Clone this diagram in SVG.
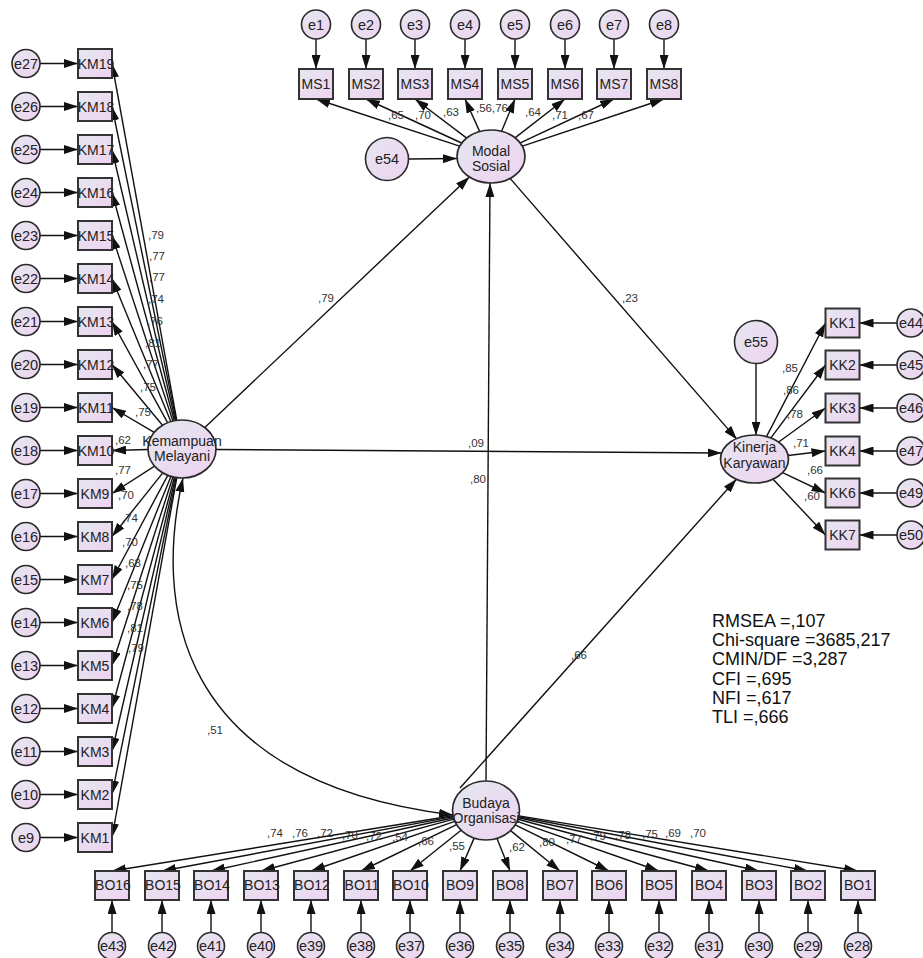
<svg xmlns="http://www.w3.org/2000/svg" width="923" height="958" viewBox="0 0 923 958">
<defs>
<linearGradient id="g" x1="0" y1="0" x2="1" y2="1">
<stop offset="0" stop-color="#e5e7f0"/>
<stop offset="1" stop-color="#eed3f0"/>
</linearGradient>
<marker id="ah" viewBox="0 0 14 9" refX="14" refY="4.5" markerWidth="14" markerHeight="9" markerUnits="userSpaceOnUse" orient="auto-start-reverse">
<path d="M0,0 L14,4.5 L0,9 z" fill="#111"/>
</marker>
<style>
.box{fill:url(#g);stroke:#333;stroke-width:2}
.err{fill:url(#g);stroke:#2a2a2a;stroke-width:1.6}
.lat{fill:url(#g);stroke:#2a2a2a;stroke-width:1.7}
.t{font-family:"Liberation Sans",Arial,sans-serif;font-size:14px;fill:#222;text-anchor:middle}
.te{font-family:"Liberation Sans",Arial,sans-serif;font-size:14.5px;fill:#222;text-anchor:middle}
.tl{font-family:"Liberation Sans",Arial,sans-serif;font-size:14px;fill:#222;text-anchor:middle}
.lb{font-family:"Liberation Sans",Arial,sans-serif;font-size:11.5px;fill:#333}
.st{font-family:"Liberation Sans",Arial,sans-serif;font-size:18px;fill:#111}
#conn line,#conn path{stroke:#111;stroke-width:1.4;fill:none;marker-end:url(#ah)}
#conn path.cov{marker-start:url(#ah)}
</style>
</defs>
<rect width="923" height="958" fill="#fff"/>
<g id="conn">
<line x1="40" y1="63.5" x2="78" y2="63.5"/>
<line x1="40" y1="106.5" x2="78" y2="106.5"/>
<line x1="40" y1="149.5" x2="78" y2="149.5"/>
<line x1="40" y1="192.5" x2="78" y2="192.5"/>
<line x1="40" y1="235.5" x2="78" y2="235.5"/>
<line x1="40" y1="278.5" x2="78" y2="278.5"/>
<line x1="40" y1="321.5" x2="78" y2="321.5"/>
<line x1="40" y1="364.5" x2="78" y2="364.5"/>
<line x1="40" y1="407.5" x2="78" y2="407.5"/>
<line x1="40" y1="450.5" x2="78" y2="450.5"/>
<line x1="40" y1="493.5" x2="78" y2="493.5"/>
<line x1="40" y1="536.5" x2="78" y2="536.5"/>
<line x1="40" y1="579.5" x2="78" y2="579.5"/>
<line x1="40" y1="622.5" x2="78" y2="622.5"/>
<line x1="40" y1="665.5" x2="78" y2="665.5"/>
<line x1="40" y1="708.5" x2="78" y2="708.5"/>
<line x1="40" y1="751.5" x2="78" y2="751.5"/>
<line x1="40" y1="794.5" x2="78" y2="794.5"/>
<line x1="40" y1="837.5" x2="78" y2="837.5"/>
<line x1="176.8" y1="420.4" x2="112" y2="63.5"/>
<line x1="176.2" y1="420.4" x2="112" y2="106.5"/>
<line x1="175.4" y1="420.6" x2="112" y2="149.5"/>
<line x1="174.3" y1="420.8" x2="112" y2="192.5"/>
<line x1="172.9" y1="421.1" x2="112" y2="235.5"/>
<line x1="170.8" y1="421.6" x2="112" y2="278.5"/>
<line x1="167.6" y1="422.7" x2="112" y2="321.5"/>
<line x1="162.5" y1="425.3" x2="112" y2="364.5"/>
<line x1="154.2" y1="432.3" x2="112" y2="407.5"/>
<line x1="148" y1="449.5" x2="112" y2="450.5"/>
<line x1="154.6" y1="466.2" x2="112" y2="493.5"/>
<line x1="162.8" y1="472.9" x2="112" y2="536.5"/>
<line x1="167.8" y1="475.4" x2="112" y2="579.5"/>
<line x1="170.9" y1="476.4" x2="112" y2="622.5"/>
<line x1="172.9" y1="477.0" x2="112" y2="665.5"/>
<line x1="174.4" y1="477.3" x2="112" y2="708.5"/>
<line x1="175.4" y1="477.4" x2="112" y2="751.5"/>
<line x1="176.2" y1="477.6" x2="112" y2="794.5"/>
<line x1="176.8" y1="477.7" x2="112" y2="837.5"/>
<line x1="316" y1="39" x2="316" y2="69"/>
<line x1="366" y1="39" x2="366" y2="69"/>
<line x1="415" y1="39" x2="415" y2="69"/>
<line x1="465" y1="39" x2="465" y2="69"/>
<line x1="515" y1="39" x2="515" y2="69"/>
<line x1="565" y1="39" x2="565" y2="69"/>
<line x1="614" y1="39" x2="614" y2="69"/>
<line x1="664" y1="39" x2="664" y2="69"/>
<line x1="459.6" y1="146.2" x2="316" y2="99"/>
<line x1="461.6" y1="143.0" x2="366" y2="99"/>
<line x1="466.4" y1="137.9" x2="415" y2="99"/>
<line x1="479.5" y1="131.1" x2="465" y2="99"/>
<line x1="501.7" y1="130.9" x2="515" y2="99"/>
<line x1="515.3" y1="137.6" x2="565" y2="99"/>
<line x1="520.3" y1="142.8" x2="614" y2="99"/>
<line x1="522.4" y1="146.1" x2="664" y2="99"/>
<line x1="408.5" y1="159" x2="457" y2="158.5"/>
<line x1="756" y1="363.5" x2="756" y2="435.5"/>
<line x1="766.1" y1="437.4" x2="825.5" y2="323"/>
<line x1="770.3" y1="438.7" x2="825.5" y2="365"/>
<line x1="778.0" y1="442.5" x2="825.5" y2="408"/>
<line x1="788.0" y1="455.5" x2="825.5" y2="451"/>
<line x1="782.6" y1="472.7" x2="825.5" y2="493"/>
<line x1="773.1" y1="479.2" x2="825.5" y2="535"/>
<line x1="897" y1="323" x2="859.5" y2="323"/>
<line x1="897" y1="365" x2="859.5" y2="365"/>
<line x1="897" y1="408" x2="859.5" y2="408"/>
<line x1="897" y1="451" x2="859.5" y2="451"/>
<line x1="897" y1="493" x2="859.5" y2="493"/>
<line x1="897" y1="535" x2="859.5" y2="535"/>
<line x1="453.0" y1="815.8" x2="112" y2="871"/>
<line x1="453.2" y1="816.6" x2="162" y2="871"/>
<line x1="453.5" y1="817.7" x2="211" y2="871"/>
<line x1="454.0" y1="819.1" x2="261" y2="871"/>
<line x1="454.8" y1="821.3" x2="311" y2="871"/>
<line x1="456.6" y1="824.7" x2="361" y2="871"/>
<line x1="461.1" y1="830.3" x2="410" y2="871"/>
<line x1="474.1" y1="838.1" x2="460" y2="871"/>
<line x1="497.0" y1="838.4" x2="510" y2="871"/>
<line x1="510.6" y1="830.6" x2="560" y2="871"/>
<line x1="515.2" y1="824.9" x2="609" y2="871"/>
<line x1="517.1" y1="821.4" x2="659" y2="871"/>
<line x1="518.0" y1="819.2" x2="709" y2="871"/>
<line x1="518.5" y1="817.7" x2="759" y2="871"/>
<line x1="518.8" y1="816.7" x2="808" y2="871"/>
<line x1="519.0" y1="815.9" x2="858" y2="871"/>
<line x1="112" y1="932.5" x2="112" y2="900"/>
<line x1="162" y1="932.5" x2="162" y2="900"/>
<line x1="211" y1="932.5" x2="211" y2="900"/>
<line x1="261" y1="932.5" x2="261" y2="900"/>
<line x1="311" y1="932.5" x2="311" y2="900"/>
<line x1="361" y1="932.5" x2="361" y2="900"/>
<line x1="410" y1="932.5" x2="410" y2="900"/>
<line x1="460" y1="932.5" x2="460" y2="900"/>
<line x1="510" y1="932.5" x2="510" y2="900"/>
<line x1="560" y1="932.5" x2="560" y2="900"/>
<line x1="609" y1="932.5" x2="609" y2="900"/>
<line x1="659" y1="932.5" x2="659" y2="900"/>
<line x1="709" y1="932.5" x2="709" y2="900"/>
<line x1="759" y1="932.5" x2="759" y2="900"/>
<line x1="808" y1="932.5" x2="808" y2="900"/>
<line x1="858" y1="932.5" x2="858" y2="900"/>
<line x1="204.8" y1="427.4" x2="469.4" y2="177.0"/>
<line x1="510.1" y1="178.4" x2="737.0" y2="439.4"/>
<line x1="216" y1="449.5" x2="721.6" y2="453"/>
<line x1="486" y1="781" x2="490" y2="183"/>
<line x1="460" y1="788" x2="736.6" y2="479"/>
<path class="cov" d="M183,478 C155,600 170,780 453,815"/>
</g>
<g id="labels">
<text class="lb" x="148" y="239">,79</text>
<text class="lb" x="149" y="260">,77</text>
<text class="lb" x="149" y="281">,77</text>
<text class="lb" x="148" y="303">,74</text>
<text class="lb" x="147" y="325">,76</text>
<text class="lb" x="145" y="347">,81</text>
<text class="lb" x="143" y="368">,77</text>
<text class="lb" x="140" y="391">,75</text>
<text class="lb" x="135" y="416">,75</text>
<text class="lb" x="115" y="444">,62</text>
<text class="lb" x="115" y="474">,77</text>
<text class="lb" x="118" y="499">,70</text>
<text class="lb" x="122" y="522">,74</text>
<text class="lb" x="122" y="546">,70</text>
<text class="lb" x="125" y="567">,68</text>
<text class="lb" x="127" y="589">,75</text>
<text class="lb" x="127" y="610">,78</text>
<text class="lb" x="127" y="632">,81</text>
<text class="lb" x="128" y="652">,79</text>
<text class="lb" x="388" y="119">,65</text>
<text class="lb" x="415" y="119">,70</text>
<text class="lb" x="443" y="116">,63</text>
<text class="lb" x="476" y="112">,56</text>
<text class="lb" x="492" y="112">,76</text>
<text class="lb" x="525" y="116">,64</text>
<text class="lb" x="552" y="119">,71</text>
<text class="lb" x="578" y="119">,67</text>
<text class="lb" x="782" y="372">,85</text>
<text class="lb" x="783" y="394">,86</text>
<text class="lb" x="787" y="418">,78</text>
<text class="lb" x="793" y="447">,71</text>
<text class="lb" x="807" y="474">,66</text>
<text class="lb" x="804" y="500">,60</text>
<text class="lb" x="267" y="837">,74</text>
<text class="lb" x="292" y="837">,76</text>
<text class="lb" x="317" y="837">,72</text>
<text class="lb" x="342" y="839">,70</text>
<text class="lb" x="366" y="840">,72</text>
<text class="lb" x="392" y="841">,54</text>
<text class="lb" x="418" y="845">,66</text>
<text class="lb" x="449" y="850">,55</text>
<text class="lb" x="509" y="851">,62</text>
<text class="lb" x="539" y="846">,80</text>
<text class="lb" x="566" y="843">,77</text>
<text class="lb" x="590" y="840">,79</text>
<text class="lb" x="615" y="839">,78</text>
<text class="lb" x="642" y="838">,75</text>
<text class="lb" x="665" y="837">,69</text>
<text class="lb" x="690" y="837">,70</text>
<text class="lb" x="318" y="302">,79</text>
<text class="lb" x="622" y="302">,23</text>
<text class="lb" x="468" y="447">,09</text>
<text class="lb" x="470" y="483">,80</text>
<text class="lb" x="571" y="659">,66</text>
<text class="lb" x="207" y="734">,51</text>
</g>
<g id="KemampuanMelayani"><ellipse class="lat" cx="182" cy="449" rx="34" ry="29"/><text class="tl" x="182" y="446">Kemampuan</text><text class="tl" x="182" y="461">Melayani</text></g>
<g id="ModalSosial"><ellipse class="lat" cx="491" cy="156.5" rx="34" ry="26.5"/><text class="tl" x="491" y="156">Modal</text><text class="tl" x="491" y="171">Sosial</text></g>
<g id="KinerjaKaryawan"><ellipse class="lat" cx="754.5" cy="459" rx="34" ry="24"/><text class="tl" x="754.5" y="452">Kinerja</text><text class="tl" x="754.5" y="468">Karyawan</text></g>
<g id="BudayaOrganisasi"><ellipse class="lat" cx="486" cy="810.5" rx="33.5" ry="29.5"/><text class="tl" x="486" y="808">Budaya</text><text class="tl" x="486" y="823">Organisasi</text></g>
<g id="e54"><circle class="err" cx="387" cy="159" r="21.5"/><text class="te" x="387" y="164">e54</text></g>
<g id="e55"><circle class="err" cx="756" cy="342" r="21.5"/><text class="te" x="756" y="347">e55</text></g>
<g id="KM19"><rect class="box" x="78" y="49" width="34" height="29"/><text class="t" x="96" y="68.5">KM19</text></g>
<g id="KM18"><rect class="box" x="78" y="92" width="34" height="29"/><text class="t" x="96" y="111.5">KM18</text></g>
<g id="KM17"><rect class="box" x="78" y="135" width="34" height="29"/><text class="t" x="96" y="154.5">KM17</text></g>
<g id="KM16"><rect class="box" x="78" y="178" width="34" height="29"/><text class="t" x="96" y="197.5">KM16</text></g>
<g id="KM15"><rect class="box" x="78" y="221" width="34" height="29"/><text class="t" x="96" y="240.5">KM15</text></g>
<g id="KM14"><rect class="box" x="78" y="264" width="34" height="29"/><text class="t" x="96" y="283.5">KM14</text></g>
<g id="KM13"><rect class="box" x="78" y="307" width="34" height="29"/><text class="t" x="96" y="326.5">KM13</text></g>
<g id="KM12"><rect class="box" x="78" y="350" width="34" height="29"/><text class="t" x="96" y="369.5">KM12</text></g>
<g id="KM11"><rect class="box" x="78" y="393" width="34" height="29"/><text class="t" x="96" y="412.5">KM11</text></g>
<g id="KM10"><rect class="box" x="78" y="436" width="34" height="29"/><text class="t" x="96" y="455.5">KM10</text></g>
<g id="KM9"><rect class="box" x="78" y="479" width="34" height="29"/><text class="t" x="95" y="498.5">KM9</text></g>
<g id="KM8"><rect class="box" x="78" y="522" width="34" height="29"/><text class="t" x="95" y="541.5">KM8</text></g>
<g id="KM7"><rect class="box" x="78" y="565" width="34" height="29"/><text class="t" x="95" y="584.5">KM7</text></g>
<g id="KM6"><rect class="box" x="78" y="608" width="34" height="29"/><text class="t" x="95" y="627.5">KM6</text></g>
<g id="KM5"><rect class="box" x="78" y="651" width="34" height="29"/><text class="t" x="95" y="670.5">KM5</text></g>
<g id="KM4"><rect class="box" x="78" y="694" width="34" height="29"/><text class="t" x="95" y="713.5">KM4</text></g>
<g id="KM3"><rect class="box" x="78" y="737" width="34" height="29"/><text class="t" x="95" y="756.5">KM3</text></g>
<g id="KM2"><rect class="box" x="78" y="780" width="34" height="29"/><text class="t" x="95" y="799.5">KM2</text></g>
<g id="KM1"><rect class="box" x="78" y="823" width="34" height="29"/><text class="t" x="95" y="842.5">KM1</text></g>
<g id="e27"><circle class="err" cx="26" cy="63.5" r="14"/><text class="te" x="26" y="68.5">e27</text></g>
<g id="e26"><circle class="err" cx="26" cy="106.5" r="14"/><text class="te" x="26" y="111.5">e26</text></g>
<g id="e25"><circle class="err" cx="26" cy="149.5" r="14"/><text class="te" x="26" y="154.5">e25</text></g>
<g id="e24"><circle class="err" cx="26" cy="192.5" r="14"/><text class="te" x="26" y="197.5">e24</text></g>
<g id="e23"><circle class="err" cx="26" cy="235.5" r="14"/><text class="te" x="26" y="240.5">e23</text></g>
<g id="e22"><circle class="err" cx="26" cy="278.5" r="14"/><text class="te" x="26" y="283.5">e22</text></g>
<g id="e21"><circle class="err" cx="26" cy="321.5" r="14"/><text class="te" x="26" y="326.5">e21</text></g>
<g id="e20"><circle class="err" cx="26" cy="364.5" r="14"/><text class="te" x="26" y="369.5">e20</text></g>
<g id="e19"><circle class="err" cx="26" cy="407.5" r="14"/><text class="te" x="26" y="412.5">e19</text></g>
<g id="e18"><circle class="err" cx="26" cy="450.5" r="14"/><text class="te" x="26" y="455.5">e18</text></g>
<g id="e17"><circle class="err" cx="26" cy="493.5" r="14"/><text class="te" x="26" y="498.5">e17</text></g>
<g id="e16"><circle class="err" cx="26" cy="536.5" r="14"/><text class="te" x="26" y="541.5">e16</text></g>
<g id="e15"><circle class="err" cx="26" cy="579.5" r="14"/><text class="te" x="26" y="584.5">e15</text></g>
<g id="e14"><circle class="err" cx="26" cy="622.5" r="14"/><text class="te" x="26" y="627.5">e14</text></g>
<g id="e13"><circle class="err" cx="26" cy="665.5" r="14"/><text class="te" x="26" y="670.5">e13</text></g>
<g id="e12"><circle class="err" cx="26" cy="708.5" r="14"/><text class="te" x="26" y="713.5">e12</text></g>
<g id="e11"><circle class="err" cx="26" cy="751.5" r="14"/><text class="te" x="26" y="756.5">e11</text></g>
<g id="e10"><circle class="err" cx="26" cy="794.5" r="14"/><text class="te" x="26" y="799.5">e10</text></g>
<g id="e9"><circle class="err" cx="26" cy="837.5" r="14"/><text class="te" x="26" y="842.5">e9</text></g>
<g id="MS1"><rect class="box" x="299" y="69" width="34" height="30"/><text class="t" x="316" y="89">MS1</text></g>
<g id="MS2"><rect class="box" x="349" y="69" width="34" height="30"/><text class="t" x="366" y="89">MS2</text></g>
<g id="MS3"><rect class="box" x="398" y="69" width="34" height="30"/><text class="t" x="415" y="89">MS3</text></g>
<g id="MS4"><rect class="box" x="448" y="69" width="34" height="30"/><text class="t" x="465" y="89">MS4</text></g>
<g id="MS5"><rect class="box" x="498" y="69" width="34" height="30"/><text class="t" x="515" y="89">MS5</text></g>
<g id="MS6"><rect class="box" x="548" y="69" width="34" height="30"/><text class="t" x="565" y="89">MS6</text></g>
<g id="MS7"><rect class="box" x="597" y="69" width="34" height="30"/><text class="t" x="614" y="89">MS7</text></g>
<g id="MS8"><rect class="box" x="647" y="69" width="34" height="30"/><text class="t" x="664" y="89">MS8</text></g>
<g id="e1"><circle class="err" cx="316" cy="24.5" r="14.5"/><text class="te" x="316" y="29.5">e1</text></g>
<g id="e2"><circle class="err" cx="366" cy="24.5" r="14.5"/><text class="te" x="366" y="29.5">e2</text></g>
<g id="e3"><circle class="err" cx="415" cy="24.5" r="14.5"/><text class="te" x="415" y="29.5">e3</text></g>
<g id="e4"><circle class="err" cx="465" cy="24.5" r="14.5"/><text class="te" x="465" y="29.5">e4</text></g>
<g id="e5"><circle class="err" cx="515" cy="24.5" r="14.5"/><text class="te" x="515" y="29.5">e5</text></g>
<g id="e6"><circle class="err" cx="565" cy="24.5" r="14.5"/><text class="te" x="565" y="29.5">e6</text></g>
<g id="e7"><circle class="err" cx="614" cy="24.5" r="14.5"/><text class="te" x="614" y="29.5">e7</text></g>
<g id="e8"><circle class="err" cx="664" cy="24.5" r="14.5"/><text class="te" x="664" y="29.5">e8</text></g>
<g id="KK1"><rect class="box" x="825.5" y="308.5" width="34" height="29"/><text class="t" x="842.5" y="328">KK1</text></g>
<g id="KK2"><rect class="box" x="825.5" y="350.5" width="34" height="29"/><text class="t" x="842.5" y="370">KK2</text></g>
<g id="KK3"><rect class="box" x="825.5" y="393.5" width="34" height="29"/><text class="t" x="842.5" y="413">KK3</text></g>
<g id="KK4"><rect class="box" x="825.5" y="436.5" width="34" height="29"/><text class="t" x="842.5" y="456">KK4</text></g>
<g id="KK6"><rect class="box" x="825.5" y="478.5" width="34" height="29"/><text class="t" x="842.5" y="498">KK6</text></g>
<g id="KK7"><rect class="box" x="825.5" y="520.5" width="34" height="29"/><text class="t" x="842.5" y="540">KK7</text></g>
<g id="e44"><circle class="err" cx="911" cy="323" r="14"/><text class="te" x="911" y="328">e44</text></g>
<g id="e45"><circle class="err" cx="911" cy="365" r="14"/><text class="te" x="911" y="370">e45</text></g>
<g id="e46"><circle class="err" cx="911" cy="408" r="14"/><text class="te" x="911" y="413">e46</text></g>
<g id="e47"><circle class="err" cx="911" cy="451" r="14"/><text class="te" x="911" y="456">e47</text></g>
<g id="e49"><circle class="err" cx="911" cy="493" r="14"/><text class="te" x="911" y="498">e49</text></g>
<g id="e50"><circle class="err" cx="911" cy="535" r="14"/><text class="te" x="911" y="540">e50</text></g>
<g id="BO16"><rect class="box" x="95" y="871" width="34" height="29"/><text class="t" x="113" y="890">BO16</text></g>
<g id="BO15"><rect class="box" x="145" y="871" width="34" height="29"/><text class="t" x="163" y="890">BO15</text></g>
<g id="BO14"><rect class="box" x="194" y="871" width="34" height="29"/><text class="t" x="212" y="890">BO14</text></g>
<g id="BO13"><rect class="box" x="244" y="871" width="34" height="29"/><text class="t" x="262" y="890">BO13</text></g>
<g id="BO12"><rect class="box" x="294" y="871" width="34" height="29"/><text class="t" x="312" y="890">BO12</text></g>
<g id="BO11"><rect class="box" x="344" y="871" width="34" height="29"/><text class="t" x="362" y="890">BO11</text></g>
<g id="BO10"><rect class="box" x="393" y="871" width="34" height="29"/><text class="t" x="411" y="890">BO10</text></g>
<g id="BO9"><rect class="box" x="443" y="871" width="34" height="29"/><text class="t" x="460" y="890">BO9</text></g>
<g id="BO8"><rect class="box" x="493" y="871" width="34" height="29"/><text class="t" x="510" y="890">BO8</text></g>
<g id="BO7"><rect class="box" x="543" y="871" width="34" height="29"/><text class="t" x="560" y="890">BO7</text></g>
<g id="BO6"><rect class="box" x="592" y="871" width="34" height="29"/><text class="t" x="609" y="890">BO6</text></g>
<g id="BO5"><rect class="box" x="642" y="871" width="34" height="29"/><text class="t" x="659" y="890">BO5</text></g>
<g id="BO4"><rect class="box" x="692" y="871" width="34" height="29"/><text class="t" x="709" y="890">BO4</text></g>
<g id="BO3"><rect class="box" x="742" y="871" width="34" height="29"/><text class="t" x="759" y="890">BO3</text></g>
<g id="BO2"><rect class="box" x="791" y="871" width="34" height="29"/><text class="t" x="808" y="890">BO2</text></g>
<g id="BO1"><rect class="box" x="841" y="871" width="34" height="29"/><text class="t" x="858" y="890">BO1</text></g>
<g id="e43"><circle class="err" cx="112" cy="946" r="13.5"/><text class="te" x="112" y="951">e43</text></g>
<g id="e42"><circle class="err" cx="162" cy="946" r="13.5"/><text class="te" x="162" y="951">e42</text></g>
<g id="e41"><circle class="err" cx="211" cy="946" r="13.5"/><text class="te" x="211" y="951">e41</text></g>
<g id="e40"><circle class="err" cx="261" cy="946" r="13.5"/><text class="te" x="261" y="951">e40</text></g>
<g id="e39"><circle class="err" cx="311" cy="946" r="13.5"/><text class="te" x="311" y="951">e39</text></g>
<g id="e38"><circle class="err" cx="361" cy="946" r="13.5"/><text class="te" x="361" y="951">e38</text></g>
<g id="e37"><circle class="err" cx="410" cy="946" r="13.5"/><text class="te" x="410" y="951">e37</text></g>
<g id="e36"><circle class="err" cx="460" cy="946" r="13.5"/><text class="te" x="460" y="951">e36</text></g>
<g id="e35"><circle class="err" cx="510" cy="946" r="13.5"/><text class="te" x="510" y="951">e35</text></g>
<g id="e34"><circle class="err" cx="560" cy="946" r="13.5"/><text class="te" x="560" y="951">e34</text></g>
<g id="e33"><circle class="err" cx="609" cy="946" r="13.5"/><text class="te" x="609" y="951">e33</text></g>
<g id="e32"><circle class="err" cx="659" cy="946" r="13.5"/><text class="te" x="659" y="951">e32</text></g>
<g id="e31"><circle class="err" cx="709" cy="946" r="13.5"/><text class="te" x="709" y="951">e31</text></g>
<g id="e30"><circle class="err" cx="759" cy="946" r="13.5"/><text class="te" x="759" y="951">e30</text></g>
<g id="e29"><circle class="err" cx="808" cy="946" r="13.5"/><text class="te" x="808" y="951">e29</text></g>
<g id="e28"><circle class="err" cx="858" cy="946" r="13.5"/><text class="te" x="858" y="951">e28</text></g>
<g id="fit">
<text class="st" x="712" y="627">RMSEA =,107</text>
<text class="st" x="712" y="646">Chi-square =3685,217</text>
<text class="st" x="712" y="665">CMIN/DF =3,287</text>
<text class="st" x="712" y="685">CFI =,695</text>
<text class="st" x="712" y="704">NFI =,617</text>
<text class="st" x="712" y="723">TLI =,666</text>
</g>
</svg>
